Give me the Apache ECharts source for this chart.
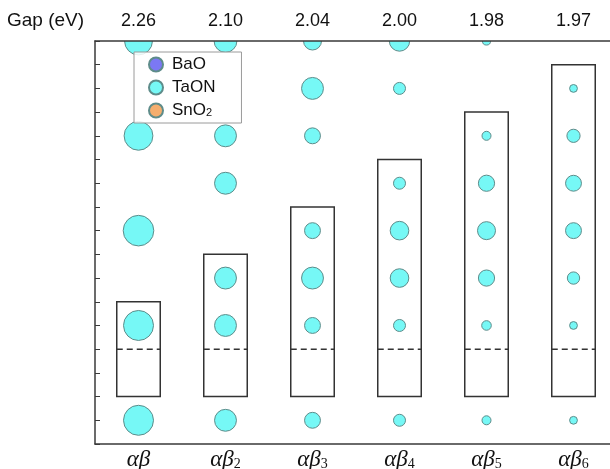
<!DOCTYPE html>
<html>
<head>
<meta charset="utf-8">
<script src="https://cdn.jsdelivr.net/npm/echarts@6/dist/echarts.min.js"></script>
<style>
  html, body { margin: 0; padding: 0; background: #fff; }
  #chart { width: 610px; height: 469px; }
</style>
</head>
<body>
<div id="chart"></div>
<script>
// Structures (bottom axis) and their band gaps (top axis)
const structures = ['αβ', 'αβ2', 'αβ3', 'αβ4', 'αβ5', 'αβ6'];
const gapLabels = ['2.26', '2.10', '2.04', '2.00', '1.98', '1.97'];

// Layer rows 0..8; relative TaON weight on each layer (0 = none)
const taonWeights = [
  [1.00, 0, 1.00, 0,    1.02, 0,    0.96, 0,    0.93],
  [0.73, 0, 0.73, 0.73, 0,    0.73, 0.73, 0,    0.76],
  [0.53, 0, 0.53, 0.73, 0.53, 0,    0.53, 0.73, 0.60],
  [0.40, 0, 0.40, 0.62, 0.62, 0.40, 0,    0.40, 0.68],
  [0.30, 0, 0.32, 0.54, 0.60, 0.54, 0.30, 0,    0.27],
  [0.26, 0, 0.26, 0.41, 0.53, 0.53, 0.44, 0.26, 0]
];
const baoWeights = [];
const sno2Weights = [];

// Slab extents per structure
const slabBottom = [0.5, 0.5, 0.5, 0.5, 0.5, 0.5];
const slabTop = [2.5, 3.5, 4.5, 5.5, 6.5, 7.5];
const slabDivider = [1.5, 1.5, 1.5, 1.5, 1.5, 1.5];

const MAX_DIAMETER = 30;
const AXIS_COLOR = '#3a3a3a';
const EDGE_COLOR = '#5e8c8a';

const toPoints = (table) => {
  const pts = [];
  table.forEach((rows, c) => {
    rows.forEach((w, r) => { if (w > 0) pts.push([c, r, w]); });
  });
  return pts;
};
const slabData = structures.map((s, i) => [i, slabBottom[i], slabTop[i], slabDivider[i]]);

// Bubbles as custom circles so the ones on the top edge are clipped by the grid
const bubbleSeries = (name, table, fill) => ({
  name, type: 'custom', data: toPoints(table), z: 3, clip: true,
  itemStyle: { color: fill, borderColor: EDGE_COLOR, borderWidth: 1 },
  renderItem: (params, api) => {
    const p = api.coord([api.value(0), api.value(1)]);
    return {
      type: 'circle',
      shape: { cx: p[0], cy: p[1], r: api.value(2) * MAX_DIAMETER / 2 },
      style: { fill, stroke: EDGE_COLOR, lineWidth: 1 }
    };
  }
});

const chart = echarts.init(document.getElementById('chart'), null, { renderer: 'canvas' });

chart.setOption({
  animation: false,
  backgroundColor: '#ffffff',
  grid: { left: 95, top: 41, width: 522, height: 403, containLabel: false, outerBoundsMode: 'none' },
  legend: {
    data: ['BaO', 'TaON', 'SnO2'],
    orient: 'vertical',
    left: 134, top: 52,
    padding: [4, 26, 4, 14],
    itemGap: 6,
    itemWidth: 22, itemHeight: 14,
    icon: 'circle',
    backgroundColor: 'rgba(255,255,255,0.85)',
    borderColor: '#9a9a9a', borderWidth: 1, borderRadius: 0,
    z: 20,
    formatter: (name) => name === 'SnO2' ? 'SnO{s|2}' : name,
    textStyle: {
      fontFamily: 'Liberation Sans, Arial, sans-serif',
      fontSize: 17, color: '#111', lineHeight: 15,
      rich: { s: { fontSize: 11, verticalAlign: 'bottom', lineHeight: 10, fontFamily: 'Liberation Sans, Arial, sans-serif', color: '#111' } }
    }
  },
  graphic: [{
    type: 'text', left: 7, top: 11, z: 10,
    style: { text: 'Gap (eV)', font: '19px "Liberation Sans", Arial, sans-serif', fill: '#111' }
  }],
  xAxis: [{
    type: 'category', data: structures, position: 'bottom', z: 10,
    axisLine: { onZero: false, lineStyle: { color: AXIS_COLOR, width: 1.5 } },
    axisTick: { inside: true, alignWithLabel: true, length: 5, lineStyle: { color: AXIS_COLOR } },
    axisLabel: {
      interval: 0, margin: 4, color: '#111',
      fontFamily: 'Liberation Serif, serif', fontStyle: 'italic', fontSize: 23,
      formatter: (v) => v.length > 2 ? v.slice(0, 2) + '{s|' + v.slice(2) + '}' : v,
      rich: { s: { fontSize: 14, fontStyle: 'normal', fontFamily: 'Liberation Serif, serif', verticalAlign: 'bottom', color: '#111' } }
    },
    splitLine: { show: false }
  }, {
    type: 'category', data: gapLabels, position: 'top', z: 10,
    axisLine: { onZero: false, lineStyle: { color: AXIS_COLOR, width: 1.5 } },
    axisTick: { inside: true, alignWithLabel: true, length: 5, lineStyle: { color: AXIS_COLOR } },
    axisLabel: { interval: 0, margin: 11, color: '#111', fontFamily: 'Liberation Sans, Arial, sans-serif', fontSize: 18 },
    splitLine: { show: false }
  }],
  yAxis: {
    type: 'value', min: -0.5, max: 8, interval: 0.5, z: 10,
    axisLine: { show: true, onZero: false, lineStyle: { color: AXIS_COLOR, width: 1.5 } },
    axisTick: { show: true, inside: true, length: 5, lineStyle: { color: AXIS_COLOR } },
    axisLabel: { show: false },
    splitLine: { show: false }
  },
  series: [
    bubbleSeries('BaO', baoWeights, '#7b78f4'),
    bubbleSeries('TaON', taonWeights, '#76f8f6'),
    bubbleSeries('SnO2', sno2Weights, '#f4ae6e'),
    {
      name: 'slab', type: 'custom', data: slabData, z: 2, clip: false,
      renderItem: (params, api) => {
        const idx = api.value(0);
        const half = api.size([1, 0])[0] * 0.25;
        const pb = api.coord([idx, api.value(1)]);
        const pt = api.coord([idx, api.value(2)]);
        const pd = api.coord([idx, api.value(3)]);
        return {
          type: 'group',
          children: [{
            type: 'rect',
            shape: { x: pb[0] - half, y: pt[1], width: half * 2, height: pb[1] - pt[1] },
            style: { fill: 'none', stroke: '#333', lineWidth: 1.5 }
          }, {
            type: 'line',
            shape: { x1: pd[0] - half, y1: pd[1], x2: pd[0] + half, y2: pd[1] },
            style: { stroke: '#333', lineWidth: 1.5, lineDash: [6, 4] }
          }]
        };
      }
    }
  ]
});
</script>
</body>
</html>
